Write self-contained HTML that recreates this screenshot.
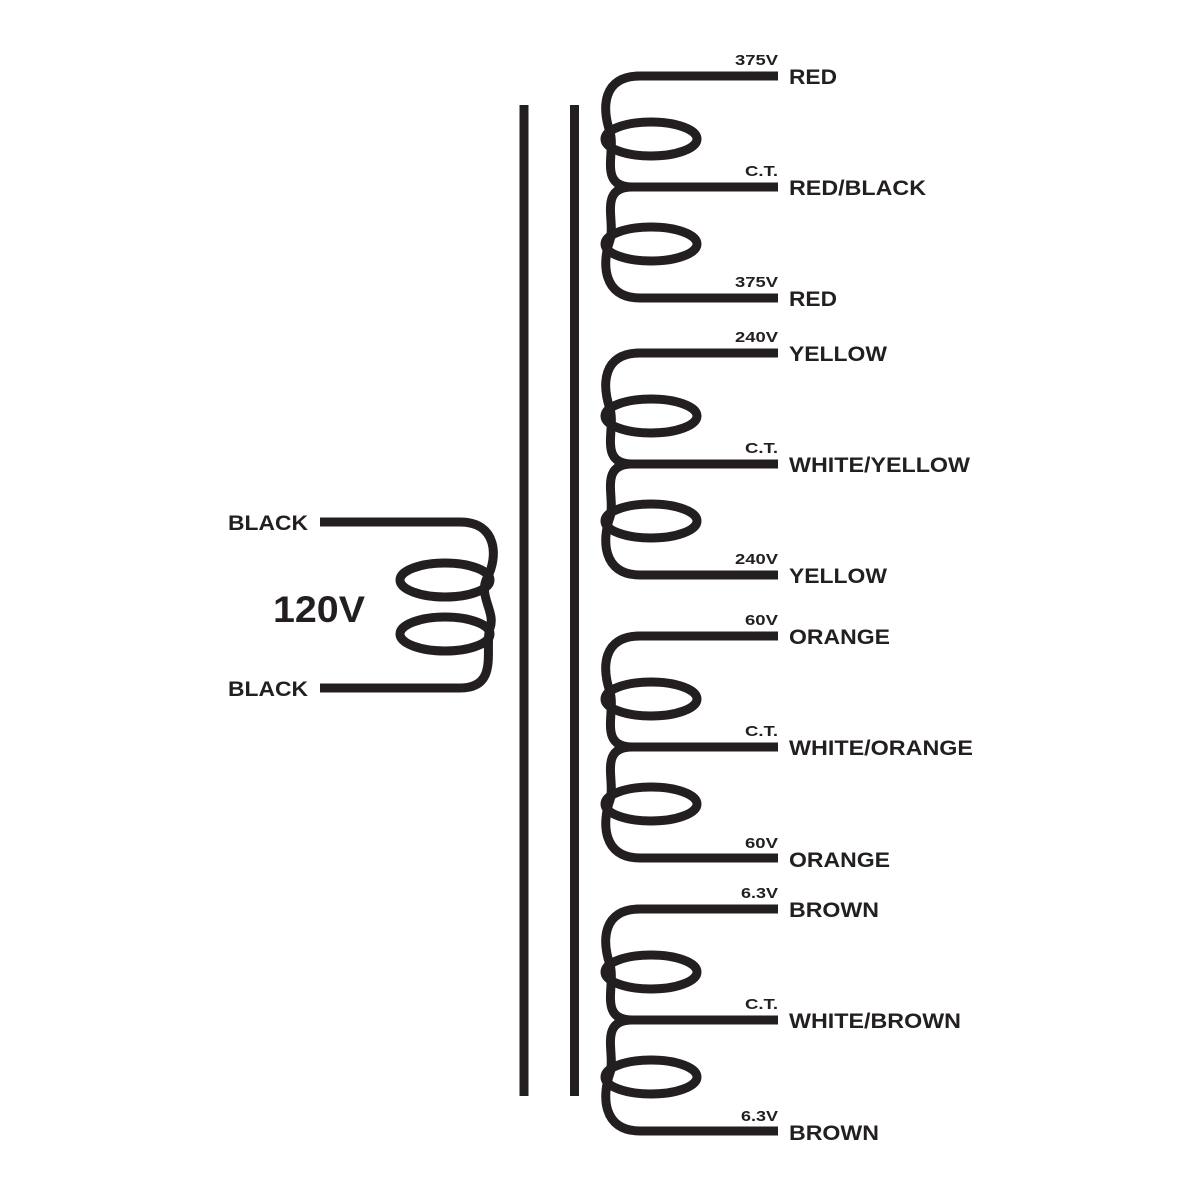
<!DOCTYPE html>
<html><head><meta charset="utf-8"><style>
html,body{margin:0;padding:0;background:#fff;}
svg{display:block;}
text{font-family:"Liberation Sans",Arial,sans-serif;font-weight:bold;fill:#231f20;}
</style></head><body>
<svg width="1200" height="1200" viewBox="0 0 1200 1200" xmlns="http://www.w3.org/2000/svg">
<g stroke="#231f20" stroke-width="9" fill="none" stroke-linecap="butt">
<rect x="519.5" y="105" width="9" height="991" fill="#231f20" stroke="none"/>
<rect x="570" y="105" width="9" height="991" fill="#231f20" stroke="none"/>
<path d="M320,522 H460 C498,522 498,558 487,578 C478,596 496,612 490,628 C484,648 500,688 460,688 H320"/>
<ellipse cx="445" cy="580" rx="45" ry="17"/>
<ellipse cx="445" cy="634" rx="45" ry="17"/>
<g id="g1">
<path d="M778,76 H640 C602,76 602,108 610,132 C616,152 598,187 632,187 H778"/>
<path d="M632,187 C598,187 616,222 610,240 C602,262 602,298 640,298 H778"/>
<ellipse cx="651" cy="139" rx="46" ry="17"/>
<ellipse cx="651" cy="244" rx="46" ry="17"/>
</g>
<use href="#g1" transform="translate(0,277)"/>
<use href="#g1" transform="translate(0,560)"/>
<use href="#g1" transform="translate(0,833)"/>
</g>
<g font-size="21" lengthAdjust="spacingAndGlyphs">
<text x="228" y="530" textLength="80" lengthAdjust="spacingAndGlyphs">BLACK</text>
<text x="228" y="696" textLength="80" lengthAdjust="spacingAndGlyphs">BLACK</text>
<text x="789" y="84" textLength="48" lengthAdjust="spacingAndGlyphs">RED</text>
<text x="789" y="195" textLength="137" lengthAdjust="spacingAndGlyphs">RED/BLACK</text>
<text x="789" y="306" textLength="48" lengthAdjust="spacingAndGlyphs">RED</text>
<text x="789" y="361" textLength="98" lengthAdjust="spacingAndGlyphs">YELLOW</text>
<text x="789" y="472" textLength="181" lengthAdjust="spacingAndGlyphs">WHITE/YELLOW</text>
<text x="789" y="583" textLength="98" lengthAdjust="spacingAndGlyphs">YELLOW</text>
<text x="789" y="644" textLength="101" lengthAdjust="spacingAndGlyphs">ORANGE</text>
<text x="789" y="755" textLength="184" lengthAdjust="spacingAndGlyphs">WHITE/ORANGE</text>
<text x="789" y="867" textLength="101" lengthAdjust="spacingAndGlyphs">ORANGE</text>
<text x="789" y="917" textLength="90" lengthAdjust="spacingAndGlyphs">BROWN</text>
<text x="789" y="1028" textLength="172" lengthAdjust="spacingAndGlyphs">WHITE/BROWN</text>
<text x="789" y="1140" textLength="90" lengthAdjust="spacingAndGlyphs">BROWN</text>
</g>
<text x="273" y="622" font-size="37" textLength="92" lengthAdjust="spacingAndGlyphs">120V</text>
<g font-size="15">
<text x="735" y="65" textLength="43" lengthAdjust="spacingAndGlyphs">375V</text>
<text x="745" y="176" textLength="33" lengthAdjust="spacingAndGlyphs">C.T.</text>
<text x="735" y="287" textLength="43" lengthAdjust="spacingAndGlyphs">375V</text>
<text x="735" y="342" textLength="43" lengthAdjust="spacingAndGlyphs">240V</text>
<text x="745" y="453" textLength="33" lengthAdjust="spacingAndGlyphs">C.T.</text>
<text x="735" y="564" textLength="43" lengthAdjust="spacingAndGlyphs">240V</text>
<text x="745" y="625" textLength="33" lengthAdjust="spacingAndGlyphs">60V</text>
<text x="745" y="736" textLength="33" lengthAdjust="spacingAndGlyphs">C.T.</text>
<text x="745" y="848" textLength="33" lengthAdjust="spacingAndGlyphs">60V</text>
<text x="741" y="898" textLength="37" lengthAdjust="spacingAndGlyphs">6.3V</text>
<text x="745" y="1009" textLength="33" lengthAdjust="spacingAndGlyphs">C.T.</text>
<text x="741" y="1121" textLength="37" lengthAdjust="spacingAndGlyphs">6.3V</text>
</g>
</svg>
</body></html>
